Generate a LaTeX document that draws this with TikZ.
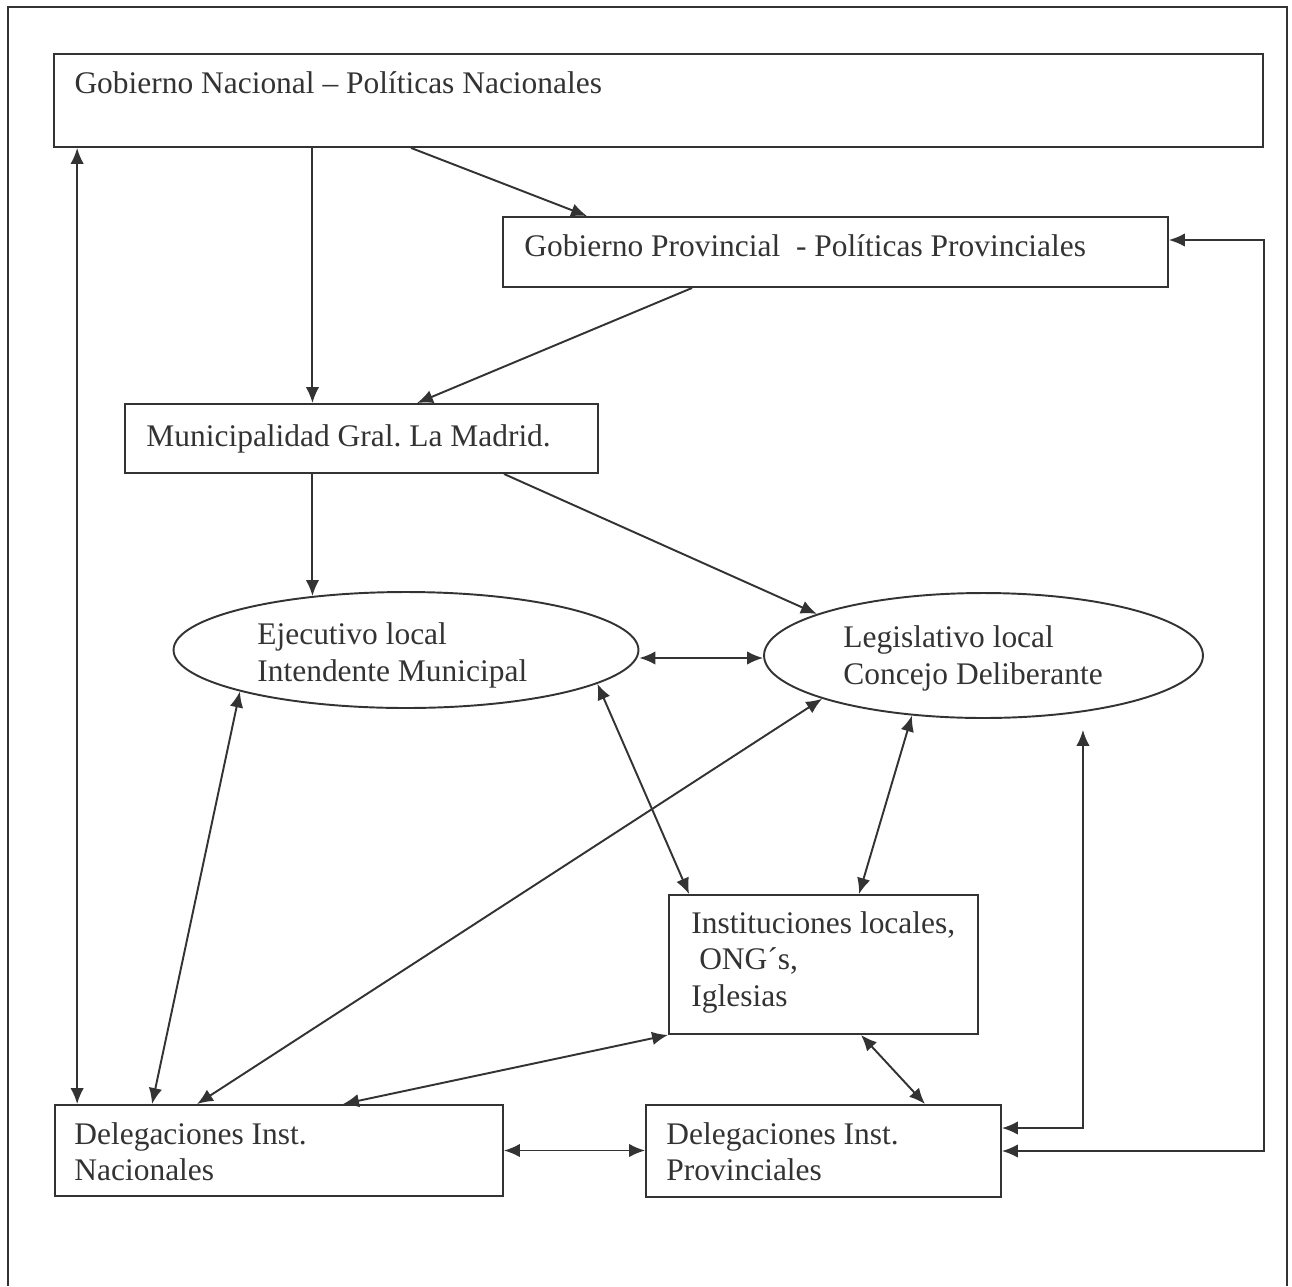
\documentclass[tikz,border=0pt]{standalone}
\usepackage{fontspec}
\setmainfont{Liberation Serif}
\usepackage{tikz}
\usetikzlibrary{
  arrows.meta,
  positioning,
  shapes.geometric
}
\definecolor{inkgray}{HTML}{333333}

\begin{document}
\begin{tikzpicture}[
  x=0.02cm, y=-0.02cm,
  box/.style={draw=inkgray, line width=1.1pt, rectangle, inner sep=0pt},
  oval/.style={draw=inkgray, line width=1.1pt, ellipse, inner sep=0pt},
  lbl/.style={inner sep=0pt, align=left, text=inkgray, font=\fontsize{17.9}{20.8}\selectfont},
  link/.style={draw=inkgray, line width=1.1pt},
  >={Latex[length=0.32cm, width=0.27cm]},
]
  \useasboundingbox (0,0) rectangle (1292,1286);
  % Outer frame, open at the bottom
  \draw[link] (8,1286) |- (1287,7) -- (1287,1286);

  % Government levels
  \node[box, minimum width=24.18cm, minimum height=1.86cm] at (658.5,100.5) (gn) {};
  \node[lbl, anchor=base west] at ([xshift=0.42cm, yshift=-0.8cm]gn.north west) (gnlbl) {Gobierno Nacional – Políticas Nacionales};

  \node[box, minimum width=13.3cm, minimum height=1.4cm] at (835.5,252) (gp) {};
  \node[lbl, anchor=base west] at ([xshift=0.44cm, yshift=-0.8cm]gp.north west) (gplbl) {Gobierno Provincial~~- Políticas Provinciales};

  \node[box, minimum width=9.46cm, minimum height=1.38cm] at (361.5,438.5) (muni) {};
  \node[lbl, anchor=base west] at ([xshift=0.44cm, yshift=-0.86cm]muni.north west) (munilbl) {Municipalidad Gral.\ La Madrid.};

  % Local powers (label base = last line)
  \node[oval, minimum width=9.3cm, minimum height=2.32cm] at (406,650) (ejec) {};
  \node[lbl, anchor=base west] at ([xshift=-2.98cm, yshift=-0.63cm]ejec.center) (ejeclbl) {Ejecutivo local\\Intendente Municipal};

  \node[oval, minimum width=8.78cm, minimum height=2.5cm] at (983.5,655.5) (legis) {};
  \node[lbl, anchor=base west] at ([xshift=-2.81cm, yshift=-0.58cm]legis.center) (legislbl) {Legislativo local\\Concejo Deliberante};

  \node[box, minimum width=6.18cm, minimum height=2.78cm] at (823.5,964.5) (inst) {};
  \node[lbl, anchor=base west] at ([xshift=0.46cm, yshift=-2.25cm]inst.north west) (instlbl) {Instituciones locales,\\\ ONG´s,\\Iglesias};

  % Delegations
  \node[box, minimum width=8.96cm, minimum height=1.82cm] at (279,1150.5) (delnac) {};
  \node[lbl, anchor=base west] at ([xshift=0.4cm, yshift=-1.53cm]delnac.north west) (delnaclbl) {Delegaciones Inst.\\Nacionales};

  \node[box, minimum width=7.1cm, minimum height=1.84cm] at (823.5,1151) (delprov) {};
  \node[lbl, anchor=base west] at ([xshift=0.42cm, yshift=-1.53cm]delprov.north west) (delprovlbl) {Delegaciones Inst.\\Provinciales};

  % Top-down flow
  \draw[link, ->] ([xshift=7.16cm]gn.south west) -- ([xshift=1.7cm]gp.north west);
  \draw[link, ->] ([xshift=3.8cm]gp.south west) -- ([xshift=5.86cm]muni.north west);
  \draw[link, ->] (gn.south -| ejec.150.5) -- (muni.north -| ejec.150.5);
  \draw[link, ->] (muni.south -| ejec.150.5) -- (ejec.150.5);
  \draw[link, ->] ([xshift=7.6cm]muni.south west) -- (legis.166);
  \draw[link, <->] ([yshift=-0.16cm]ejec.east) -- ([yshift=-0.16cm]ejec.east -| legis.west);

  % Links down to the delegations
  \draw[link, <->] ([xshift=0.48cm]gn.south west) -- ([xshift=0.48cm]gn.south west |- delnac.north);
  \draw[link, <->] (ejec.194.5) -- ([xshift=1.96cm]delnac.north west);
  \draw[link, <->] (legis.195) -- ([xshift=2.86cm]delnac.north west);
  \draw[link, <->] (inst.south west) -- ([xshift=5.78cm]delnac.north west);
  \draw[link, <->] (ejec.350) -- ([xshift=0.42cm]inst.north west);
  \draw[link, <->] (legis.220) -- ([xshift=3.82cm]inst.north west);
  \draw[link, <->] ([xshift=3.86cm]inst.south west) -- ([xshift=5.6cm]delprov.north west);
  \draw[link, <->] (delnac.east) -- (delnac.east -| delprov.west);
  \draw[link, <->] ([yshift=0.46cm]delprov.east) -| ([xshift=1.99cm, yshift=-0.22cm]legis.south);
  \draw[link, <->] (delprov.east) -| ([yshift=0.24cm]gp.east -| gn.east) -- ([yshift=0.24cm]gp.east);
\end{tikzpicture}
\end{document}
